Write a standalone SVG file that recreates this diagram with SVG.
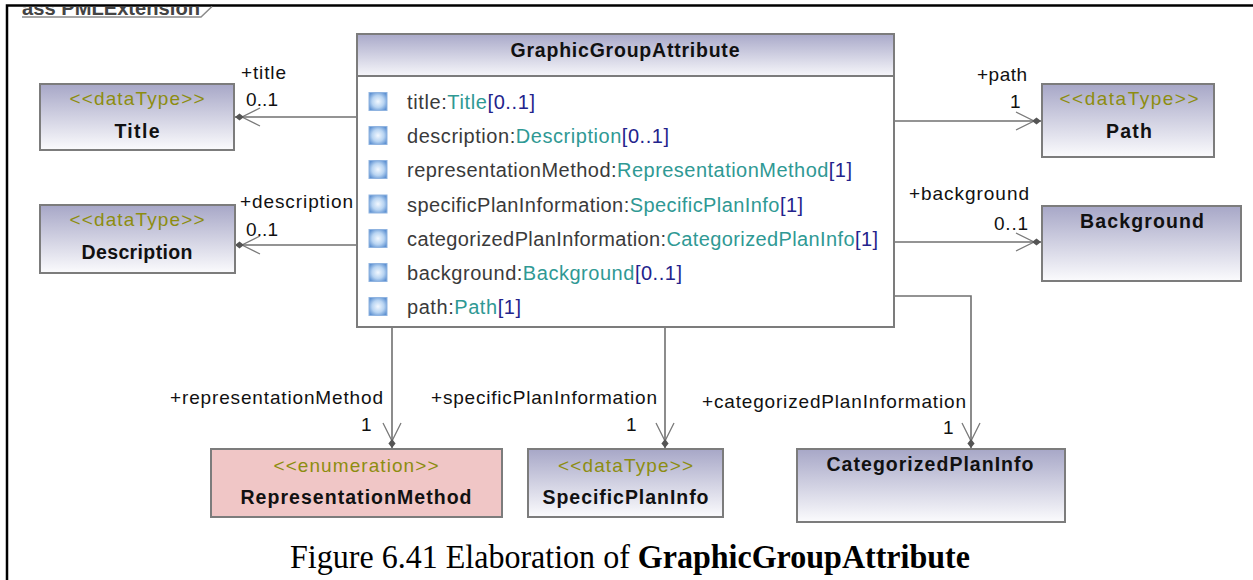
<svg xmlns="http://www.w3.org/2000/svg" width="1253" height="580" viewBox="0 0 1253 580">
<style>
.box{stroke:#7c7c7c;stroke-width:2}
.cls{fill:url(#cg)}
.enum{fill:#f0c6c6}
.st{font-family:"Liberation Sans",Arial,sans-serif;font-size:19px;fill:#8d8d10;text-anchor:middle}
.nm{font-family:"Liberation Sans",Arial,sans-serif;font-size:19.5px;font-weight:bold;fill:#111;text-anchor:middle}
.at{font-family:"Liberation Sans",Arial,sans-serif;font-size:20px;fill:#3a3a3a}
.ty{fill:#2f9994}
.mu{fill:#23238c}
.lb{font-family:"Liberation Sans",Arial,sans-serif;font-size:19px;fill:#111}
.ic{fill:url(#ig);stroke:#8fb3e0;stroke-width:1}
.cn{fill:none;stroke:#707070;stroke-width:1.6}
</style>
<defs>
<linearGradient id="cg" x1="0" y1="0" x2="0" y2="1">
<stop offset="0" stop-color="#a7a7c7"/>
<stop offset="1" stop-color="#fbfbfd"/>
</linearGradient>
<linearGradient id="hg" x1="0" y1="0" x2="0" y2="1">
<stop offset="0" stop-color="#a9a9c9"/>
<stop offset="1" stop-color="#f6f6fa"/>
</linearGradient>
<radialGradient id="ig" cx="0.5" cy="0.5" r="0.6">
<stop offset="0" stop-color="#f2f8ff"/>
<stop offset="0.55" stop-color="#b8d4f2"/>
<stop offset="1" stop-color="#5f92d2"/>
</radialGradient>
<marker id="nav" markerUnits="userSpaceOnUse" orient="auto" refX="0" refY="0" markerWidth="40" markerHeight="40" viewBox="-30 -15 40 30" overflow="visible">
<path d="M-25,-9 L-7,0 L-25,9" fill="none" stroke="#7a7a7a" stroke-width="1.3"/>
<polygon points="0,0 -4.5,-3.6 -9,0 -4.5,3.6" fill="#555"/>
</marker>
<clipPath id="tabclip"><rect x="8" y="7" width="200" height="12"/></clipPath>
</defs>
<rect width="1253" height="580" fill="#fff"/>
<g id="frame">
<path d="M7,580 V5.5 H1253" fill="none" stroke="#000" stroke-width="2.5"/>
<path d="M22,17 H201 L212,6.5" fill="none" stroke="#8a8a8a" stroke-width="1.5"/>
<text x="22" y="14.5" clip-path="url(#tabclip)" font-family="Liberation Sans,Arial,sans-serif" font-size="21" font-weight="bold" fill="#444" textLength="178" lengthAdjust="spacingAndGlyphs">ass PMLExtension</text>
</g>
<g id="connectors">
<path class="cn" d="M357,117 H235" marker-end="url(#nav)"/>
<path class="cn" d="M357,245 H235" marker-end="url(#nav)"/>
<path class="cn" d="M894,121 H1041" marker-end="url(#nav)"/>
<path class="cn" d="M894,242 H1041" marker-end="url(#nav)"/>
<path class="cn" d="M392,327 V448" marker-end="url(#nav)"/>
<path class="cn" d="M665,327 V448" marker-end="url(#nav)"/>
<path class="cn" d="M894,296 H971 V448" marker-end="url(#nav)"/>
<text class="lb" x="241" y="79" textLength="45">+title</text>
<text class="lb" x="246" y="106" textLength="32">0..1</text>
<text class="lb" x="240" y="208" textLength="113">+description</text>
<text class="lb" x="246" y="236" textLength="32">0..1</text>
<text class="lb" x="977" y="81" textLength="50">+path</text>
<text class="lb" x="1010" y="108">1</text>
<text class="lb" x="909" y="200" textLength="120">+background</text>
<text class="lb" x="994" y="230" textLength="34">0..1</text>
<text class="lb" x="170" y="404" textLength="213">+representationMethod</text>
<text class="lb" x="361" y="431">1</text>
<text class="lb" x="431" y="404" textLength="226">+specificPlanInformation</text>
<text class="lb" x="626" y="431">1</text>
<text class="lb" x="702" y="408" textLength="264">+categorizedPlanInformation</text>
<text class="lb" x="943" y="434">1</text>
</g>
<g id="GraphicGroupAttribute">
<rect x="357" y="34" width="537" height="293" fill="#fff" class="box"/>
<rect x="357" y="34" width="537" height="42" fill="url(#hg)" class="box"/>
<text class="nm" x="625" y="57" textLength="229">GraphicGroupAttribute</text>
<rect class="ic" x="369" y="92.5" width="18" height="18"/>
<rect class="ic" x="369" y="126.5" width="18" height="18"/>
<rect class="ic" x="369" y="160.5" width="18" height="18"/>
<rect class="ic" x="369" y="195" width="18" height="18"/>
<rect class="ic" x="369" y="229.5" width="18" height="18"/>
<rect class="ic" x="369" y="263.5" width="18" height="18"/>
<rect class="ic" x="369" y="297.5" width="18" height="18"/>
<text class="at" x="407" y="109" textLength="128">title:<tspan class="ty">Title</tspan><tspan class="mu">[0..1]</tspan></text>
<text class="at" x="407" y="143" textLength="262">description:<tspan class="ty">Description</tspan><tspan class="mu">[0..1]</tspan></text>
<text class="at" x="407" y="177" textLength="445">representationMethod:<tspan class="ty">RepresentationMethod</tspan><tspan class="mu">[1]</tspan></text>
<text class="at" x="407" y="212" textLength="396">specificPlanInformation:<tspan class="ty">SpecificPlanInfo</tspan><tspan class="mu">[1]</tspan></text>
<text class="at" x="407" y="246" textLength="471">categorizedPlanInformation:<tspan class="ty">CategorizedPlanInfo</tspan><tspan class="mu">[1]</tspan></text>
<text class="at" x="407" y="280" textLength="275">background:<tspan class="ty">Background</tspan><tspan class="mu">[0..1]</tspan></text>
<text class="at" x="407" y="314" textLength="114">path:<tspan class="ty">Path</tspan><tspan class="mu">[1]</tspan></text>
</g>
<g id="Title">
<rect class="box cls" x="40" y="84" width="194" height="66"/>
<text class="st" x="137" y="105" textLength="135">&lt;&lt;dataType&gt;&gt;</text>
<text class="nm" x="137" y="138" textLength="45">Title</text>
</g>
<g id="Description">
<rect class="box cls" x="40" y="205" width="195" height="68"/>
<text class="st" x="137" y="226" textLength="135">&lt;&lt;dataType&gt;&gt;</text>
<text class="nm" x="137" y="259" textLength="111">Description</text>
</g>
<g id="Path">
<rect class="box cls" x="1042" y="84" width="172" height="73"/>
<text class="st" x="1129" y="105" textLength="139">&lt;&lt;dataType&gt;&gt;</text>
<text class="nm" x="1129" y="138" textLength="46">Path</text>
</g>
<g id="Background">
<rect class="box cls" x="1042" y="206" width="199" height="75"/>
<text class="nm" x="1142" y="228" textLength="124">Background</text>
</g>
<g id="RepresentationMethod">
<rect class="box enum" x="211" y="449" width="291" height="68"/>
<text class="st" x="356" y="472" textLength="165">&lt;&lt;enumeration&gt;&gt;</text>
<text class="nm" x="356" y="504" textLength="231">RepresentationMethod</text>
</g>
<g id="SpecificPlanInfo">
<rect class="box cls" x="528" y="449" width="195" height="68"/>
<text class="st" x="625.5" y="472" textLength="135">&lt;&lt;dataType&gt;&gt;</text>
<text class="nm" x="625.5" y="504" textLength="166">SpecificPlanInfo</text>
</g>
<g id="CategorizedPlanInfo">
<rect class="box cls" x="797" y="449" width="268" height="73"/>
<text class="nm" x="930" y="471" textLength="207">CategorizedPlanInfo</text>
</g>
<text x="290" y="568" font-family="Liberation Serif,'Times New Roman',serif" font-size="33" fill="#000" textLength="680" lengthAdjust="spacingAndGlyphs">Figure 6.41 Elaboration of <tspan font-weight="bold">GraphicGroupAttribute</tspan></text>
</svg>
